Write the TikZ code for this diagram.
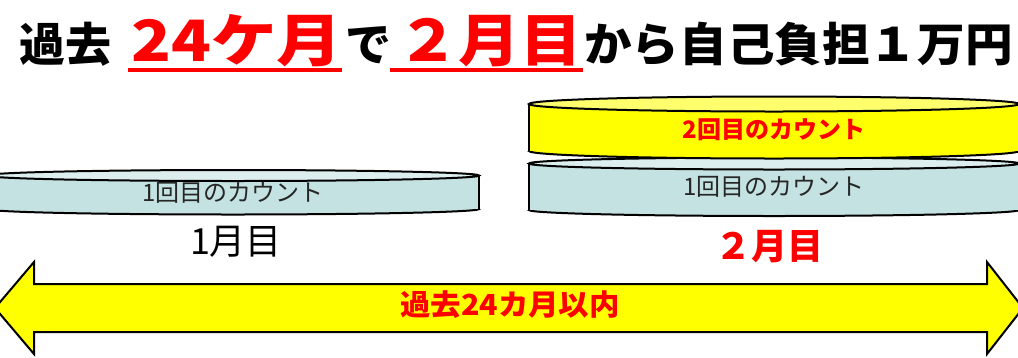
\documentclass[tikz,border=0pt]{standalone}
\usepackage{fontspec}
\usepackage{graphicx}
\setmainfont{Noto Sans CJK JP}
\newfontfamily\jp{Noto Sans CJK JP}
\definecolor{tealbody}{RGB}{196,226,226}
\definecolor{tealtop}{RGB}{220,238,238}
\definecolor{ylwbody}{RGB}{255,255,0}
\definecolor{ylwtop}{RGB}{255,255,110}
\definecolor{redtxt}{RGB}{255,0,0}
\newcommand\mycyl[7]{%
  % #1 cx, #2 half width, #3 top y, #4 bottom y, #5 ry, #6 body, #7 top colour
  \fill[#6] (#1-#2,#3) rectangle (#1+#2,#4);
  \fill[#6] (#1,#4) ellipse[x radius=#2, y radius=#5];
  \begin{scope}
    \clip (#1-#2-5,#4) rectangle (#1+#2+5,#4+#5+5);
    \draw[cylline] (#1,#4) ellipse[x radius=#2, y radius=#5];
  \end{scope}
  \draw[cylline] (#1-#2,#3) -- (#1-#2,#4);
  \draw[cylline] (#1+#2,#3) -- (#1+#2,#4);
  \filldraw[cylline, fill=#7] (#1,#3) ellipse[x radius=#2, y radius=#5];
}
\tikzset{
  cylline/.style={draw=black, line width=2pt},
  titleblk/.style={font=\jp\bfseries\fontsize{46}{46}\selectfont, text=black, inner sep=0pt, anchor=base west},
  titlered/.style={font=\jp\bfseries\fontsize{57}{57}\selectfont, text=redtxt, inner sep=0pt, anchor=base west},
  countlbl/.style={font=\jp\fontsize{24}{24}\selectfont, text=black!85, inner sep=0pt},
  countred/.style={font=\jp\bfseries\fontsize{24}{24}\selectfont, text=redtxt, inner sep=0pt},
  monthlbl/.style={font=\jp\fontsize{36}{36}\selectfont, inner sep=0pt},
}
\begin{document}
\begin{tikzpicture}[x=1pt,y=-1pt]
\useasboundingbox (0,0) rectangle (1018,357);
% title
\node[titleblk] (t1) at (19,61) {過去};
\node[titlered] (t2) at (131,61) {\scalebox{1.15}[1]{24ケ月}};
\node[titleblk] (t3) at (345,61) {で};
\node[titlered] (t4) at (397,61) {\scalebox{1.08}[1]{２月目}};
\node[titleblk] (t5) at (584,61) {\scalebox{1.035}[1]{から自己負担１万円}};
\fill[redtxt] (128,68) rectangle (342,72);
\fill[redtxt] (390,68) rectangle (583,72);
% left cylinder
\mycyl{233}{246}{175.5}{209}{5.5}{tealbody}{tealtop}
\node[countlbl] (c1) at (233,193) {1回目のカウント};
% right cylinders
\mycyl{774}{245}{163.5}{210}{6}{tealbody}{tealtop}
\mycyl{774}{245}{104}{151}{7.5}{ylwbody}{ylwtop}
\node[countred] (c2) at (774,130) {2回目のカウント};
\node[countlbl] (c3) at (774,187) {1回目のカウント};
% month labels
\node[monthlbl] (m1) at (236,242) {1月目};
\node[monthlbl, font=\jp\bfseries\fontsize{36}{36}\selectfont, text=redtxt] (m2) at (769,247) {２月目};
% double arrow
\filldraw[draw=black, line width=2pt, fill=ylwbody, line join=miter]
  (-5,308) -- (34,262) -- (34,284) -- (987,284) -- (987,262) -- (1023,308)
  -- (987,354) -- (987,332) -- (34,332) -- (34,354) -- cycle;
\node[font=\jp\bfseries\fontsize{29}{29}\selectfont, text=redtxt, inner sep=0pt] (a1) at (510,305) {\scalebox{1.05}[1]{過去24カ月以内}};
\end{tikzpicture}
\end{document}
